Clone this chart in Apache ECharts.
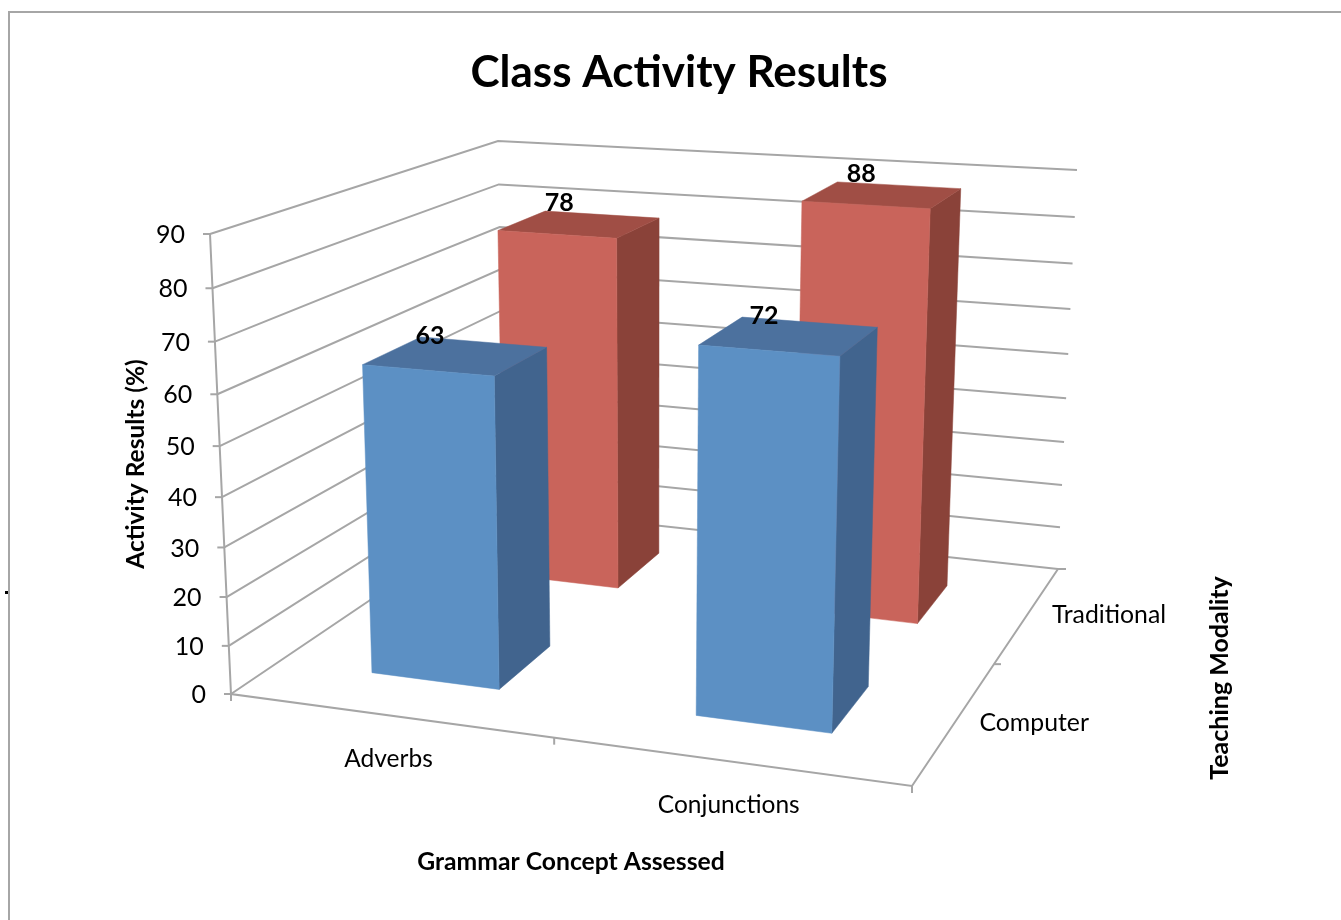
<!DOCTYPE html>
<html>
<head>
<meta charset="utf-8">
<title>Class Activity Results</title>
<style>
html, body { margin: 0; padding: 0; background: #fff; }
#main { width: 1341px; height: 920px; }
</style>
<script src="https://cdn.jsdelivr.net/npm/echarts@6/dist/echarts.min.js"></script>
</head>
<body>
<div id="main"></div>
<script>
var categories = ['Adverbs', 'Conjunctions'];
var modalities = ['Computer', 'Traditional'];
var computerValues = [63, 72];
var traditionalValues = [78, 88];
var yTicks = [0, 10, 20, 30, 40, 50, 60, 70, 80, 90];

var FONT = 'Lato, "Noto Sans", sans-serif';
var LINE = '#a6a6a6';

// the picture's 3d box: 8 corners on screen, w is how far away each corner is
var box = {
    bottom: { lf: [231, 694], rf: [912, 786], lb: [505, 509], rb: [1058, 569] },
    top: { lf: [210, 234], rf: [927, 283], lb: [498, 141], rb: [1077, 170] },
    w: { lf: 2.17, rf: 2.04, lb: 2.71, rb: 2.51 },
    topW: 0.935
};

// s: left to right, y: floor to top, t: front to back, all 0..1
function project(s, y, t) {
    var sx = 0, sy = 0, sw = 0;
    ['lf', 'rf', 'lb', 'rb'].forEach(function (k) {
        var ks = k.charAt(0) === 'r' ? s : 1 - s;
        var kt = k.charAt(1) === 'b' ? t : 1 - t;
        var w = box.w[k];
        var b = ks * kt * (1 - y) * w;
        var a = ks * kt * y * w * box.topW;
        sx += b * box.bottom[k][0] + a * box.top[k][0];
        sy += b * box.bottom[k][1] + a * box.top[k][1];
        sw += a + b;
    });
    return [sx / sw, sy / sw];
}

function yFrac(api, v) {
    return 1 - api.coord([0, v])[1] / api.getHeight();
}
function depthFrac(j) {
    return (j + 0.5) / modalities.length;
}
function line(points, width) {
    return {
        type: 'polyline',
        shape: { points: points },
        style: { stroke: LINE, lineWidth: width || 2, fill: null }
    };
}
function text(str, x, y, size, weight, align) {
    return {
        type: 'text',
        x: x,
        y: y,
        style: {
            text: str,
            fill: '#000',
            fontFamily: FONT,
            fontSize: size,
            fontWeight: weight || 'normal',
            align: align || 'center',
            verticalAlign: 'middle'
        }
    };
}

function renderGrid(params, api) {
    var y = yFrac(api, api.value(1));
    var front = project(0, y, 0);
    return {
        type: 'group',
        children: [
            line([front, project(0, y, 1), project(1, y, 1)]),
            line([front, [front[0] - 7, front[1]]]),
            text(String(api.value(1)), front[0] - 25, front[1] + 1, 25, 'normal', 'right')
        ]
    };
}

function renderFloor(params, api) {
    var lf = project(0, 0, 0), rf = project(1, 0, 0), rb = project(1, 0, 1);
    var mid = project(0.49, 0, 0), midDepth = project(1, 0, 0.51);
    return {
        type: 'group',
        children: [
            line([project(0, 1, 0), lf, rf, rb]),
            line([lf, [lf[0], lf[1] + 7]]),
            line([rf, [rf[0], rf[1] + 7]]),
            line([mid, [mid[0], mid[1] + 7]]),
            line([midDepth, [midDepth[0] + 7, midDepth[1]]]),
            line([rb, [rb[0] + 8, rb[1]]])
        ]
    };
}

function barRenderer(j, colors, labelDx, labelDy) {
    return function (params, api) {
        var cat = api.value(0), val = api.value(1);
        var sc = api.coord([cat, 0])[0] / api.getWidth() - 0.003;
        var s0 = sc - 0.1, s1 = sc + 0.1;
        var t0 = depthFrac(j) - 0.1, t1 = t0 + 0.2;
        var y = yFrac(api, val);
        var backLeft = project(s0, y, t1);
        function face(pts, fill) {
            return {
                type: 'polygon',
                shape: { points: pts },
                style: { fill: fill, stroke: fill, lineWidth: 0.5 }
            };
        }
        return {
            type: 'group',
            children: [
                face([project(s1, 0, t0), project(s1, 0, t1), project(s1, y, t1), project(s1, y, t0)], colors.side),
                face([project(s0, y, t0), project(s1, y, t0), project(s1, y, t1), project(s0, y, t1)], colors.top),
                face([project(s0, 0, t0), project(s1, 0, t0), project(s1, y, t0), project(s0, y, t0)], colors.front),
                text(String(val), backLeft[0] + labelDx[cat], backLeft[1] + labelDy, 25, 'bold')
            ]
        };
    };
}

function renderCategoryLabel(params, api) {
    var p = project(api.coord([api.value(0), 0])[0] / api.getWidth(), 0, 0);
    return text(categories[api.value(0)], p[0] - 5, p[1] + 43.5, 24.5);
}

function renderModalityLabel(params, api) {
    var j = api.value(0);
    var p = project(1, 0, depthFrac(j));
    return text(modalities[j], p[0] + 25, p[1] + 0, 24.8, 'normal', 'left');
}

function pairs(arr) {
    return arr.map(function (v, i) { return [i, v]; });
}

var chart = echarts.init(document.getElementById('main'), null, { renderer: 'canvas' });

var option = {
    animation: false,
    backgroundColor: '#fff',
    title: {
        text: 'Class Activity Results',
        left: 674,
        top: 46,
        textAlign: 'center',
        textStyle: { fontFamily: FONT, fontSize: 44, fontWeight: 'bold', color: '#000' }
    },
    grid: { left: 0, right: 0, top: 0, bottom: 0, show: false },
    xAxis: { type: 'category', data: categories, show: false },
    yAxis: { type: 'value', min: 0, max: 90, interval: 10, show: false },
    series: [
        {
            name: 'grid', type: 'custom', silent: true, renderItem: renderGrid,
            data: yTicks.map(function (v) { return [0, v]; }), encode: { x: 0, y: 1 }
        },
        {
            name: 'floor', type: 'custom', silent: true, renderItem: renderFloor,
            data: [[0, 0]], encode: { x: 0, y: 1 }
        },
        {
            name: 'Traditional', type: 'custom',
            renderItem: barRenderer(1, { front: '#c9645b', side: '#8a4239', top: '#a04e45' }, [14, 24], -8),
            data: pairs(traditionalValues), encode: { x: 0, y: 1 }
        },
        {
            name: 'Computer', type: 'custom',
            renderItem: barRenderer(0, { front: '#5c90c4', side: '#41648e', top: '#4c719e' }, [9, 22], -1.5),
            data: pairs(computerValues), encode: { x: 0, y: 1 }
        },
        {
            name: 'categoryLabels', type: 'custom', silent: true, renderItem: renderCategoryLabel,
            data: categories.map(function (c, i) { return [i, 0]; }), encode: { x: 0, y: 1 }
        },
        {
            name: 'modalityLabels', type: 'custom', silent: true, renderItem: renderModalityLabel,
            data: modalities.map(function (c, i) { return [i, 0]; }), encode: { x: 0, y: 1 }
        }
    ],
    graphic: [
        { type: 'polyline', shape: { points: [[9, 920], [9, 12], [1341, 12]] }, style: { stroke: '#a6a6a6', lineWidth: 2, fill: null } },
        { type: 'rect', shape: { x: 5, y: 591, width: 3, height: 3 }, style: { fill: '#000' } },
        { type: 'text', x: 136, y: 464, rotation: Math.PI / 2, style: { text: 'Activity Results (%)', fontFamily: FONT, fontSize: 24.5, fontWeight: 'bold', fill: '#000', align: 'center', verticalAlign: 'middle' } },
        { type: 'text', x: 1220, y: 678, rotation: Math.PI / 2, style: { text: 'Teaching Modality', fontFamily: FONT, fontSize: 25, fontWeight: 'bold', fill: '#000', align: 'center', verticalAlign: 'middle' } },
        { type: 'text', x: 571, y: 862, style: { text: 'Grammar Concept Assessed', fontFamily: FONT, fontSize: 24.7, fontWeight: 'bold', fill: '#000', align: 'center', verticalAlign: 'middle' } }
    ]
};

chart.setOption(option);
</script>
</body>
</html>
